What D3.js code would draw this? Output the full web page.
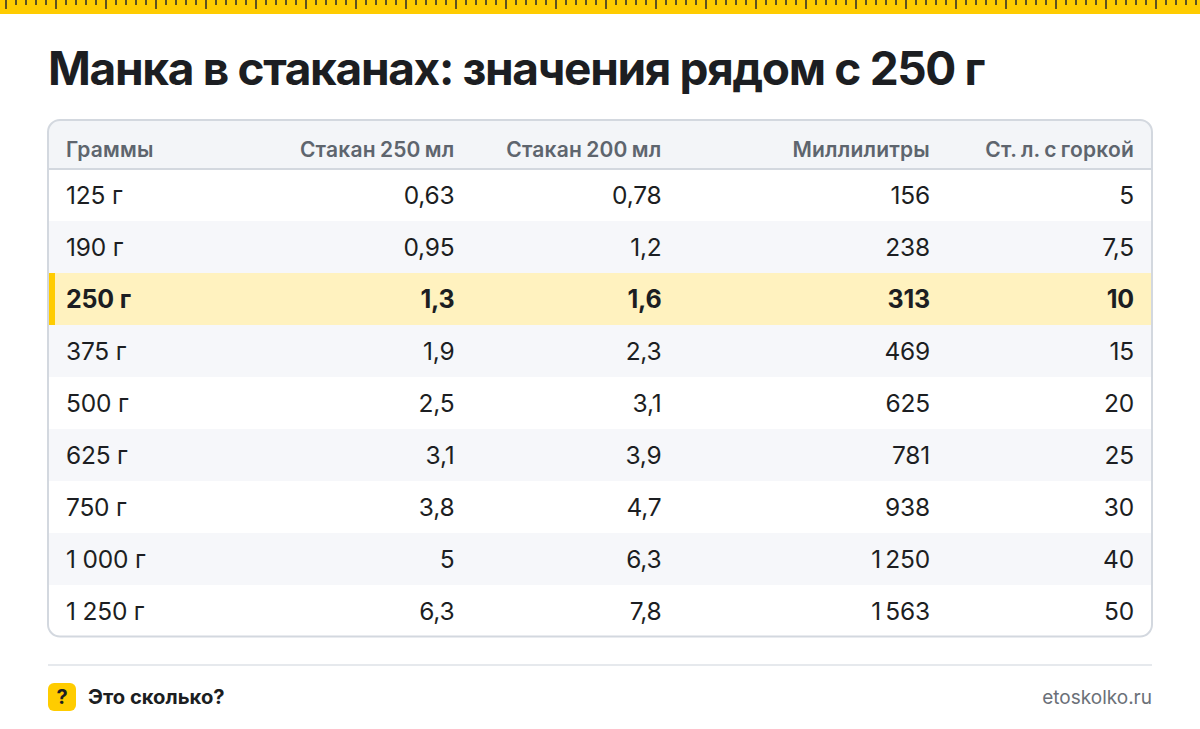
<!DOCTYPE html>
<html><head><meta charset="utf-8">
<script src="https://cdn.jsdelivr.net/npm/d3@7"></script>
<style>html,body{margin:0;padding:0;background:#fff}svg{display:block}text{font-family:Inter,sans-serif}</style>
</head><body><svg id="c" width="1200" height="729"></svg>
<script>
const title = "Манка в стаканах: значения рядом с 250 г";
const headers = ["Граммы","Стакан 250 мл","Стакан 200 мл","Миллилитры","Ст. л. с горкой"];
const grams = ["125 г","190 г","250 г","375 г","500 г","625 г","750 г","1\u00a0000 г","1\u00a0250 г"];
const cup250 = ["0,63","0,95","1,3","1,9","2,5","3,1","3,8","5","6,3"];
const cup200 = ["0,78","1,2","1,6","2,3","3,1","3,9","4,7","6,3","7,8"];
const ml = ["156","238","313","469","625","781","938","1\u2009250","1\u2009563"];
const spoons = ["5","7,5","10","15","20","25","30","40","50"];
const highlighted = "250 г";
const columns = [grams,cup250,cup200,ml,spoons];

const svg = d3.select("#c");
const W=1200, L=48, R=1152, TOP=120, HEAD=169, BOT=636.5;
const colX = d3.scaleOrdinal().domain(d3.range(5)).range([66,454.5,661.5,930,1134]);
const rowY = d3.scaleBand().domain(grams).range([HEAD,637]);
const anchor = i => i===0?"start":"end";

// ruler
svg.append("rect").attr("width",W).attr("height",14).attr("fill","#ffcc00");
const ruler = d3.scaleLinear().domain([0,120]).range([6,1206]);
svg.append("g").selectAll("rect").data(d3.range(0,120)).join("rect")
  .attr("x",d=>ruler(d)-1).attr("y",0).attr("width",2)
  .attr("height",d=>d%5===0?9:5).attr("fill","#5f5321");

svg.append("text").attr("x",48).attr("y",85).attr("font-size",46).attr("font-weight",700)
  .attr("letter-spacing","-1.33").attr("fill","#1c1e22").text(title);

// table
const defs = svg.append("defs");
defs.append("clipPath").attr("id","card").append("rect")
  .attr("x",L).attr("y",TOP).attr("width",R-L).attr("height",BOT-TOP).attr("rx",12);
const t = svg.append("g").attr("clip-path","url(#card)");
t.append("rect").attr("x",L).attr("y",TOP).attr("width",R-L).attr("height",HEAD-TOP).attr("fill","#f3f5f8");
t.selectAll(".row").data(grams).join("rect").attr("class","row")
  .attr("x",L).attr("width",R-L).attr("y",d=>rowY(d)).attr("height",rowY.bandwidth())
  .attr("fill",(d,i)=>d===highlighted?"#fff2bf":(i%2?"#f6f7fa":"#ffffff"));
t.append("rect").attr("x",L).attr("y",rowY(highlighted)).attr("width",7).attr("height",rowY.bandwidth()).attr("fill","#ffcc00");
t.append("rect").attr("x",L).attr("y",HEAD-1).attr("width",R-L).attr("height",2).attr("fill","#d3d8df");
svg.append("rect").attr("x",L).attr("y",TOP).attr("width",R-L).attr("height",BOT-TOP).attr("rx",12)
  .attr("fill","none").attr("stroke","#d3d8df").attr("stroke-width",2);

svg.append("g").selectAll("text").data(headers).join("text")
  .attr("x",(d,i)=>colX(i)).attr("y",157).attr("text-anchor",(d,i)=>anchor(i))
  .attr("font-size",21).attr("font-weight",600).attr("letter-spacing","0.2").attr("word-spacing","-1.3")
  .attr("fill","#5e656e").text(d=>d);

columns.forEach((col,c)=>{
  svg.append("g").selectAll("text").data(col).join("text")
    .attr("x",colX(c)).attr("y",(d,i)=>rowY(grams[i])+rowY.bandwidth()/2+9)
    .attr("text-anchor",anchor(c))
    .attr("font-size",(d,i)=>grams[i]===highlighted?25:24.5)
    .attr("letter-spacing","-0.2")
    .attr("font-weight",(d,i)=>grams[i]===highlighted?700:400)
    .attr("fill","#1c1e22").text(d=>d);
});

// footer
svg.append("rect").attr("x",L).attr("y",664).attr("width",R-L).attr("height",2).attr("fill","#e6e9ed");
svg.append("rect").attr("x",48).attr("y",683).attr("width",28).attr("height",28).attr("rx",6).attr("fill","#ffcc00");
svg.append("text").attr("x",62).attr("y",704).attr("text-anchor","middle").attr("font-size",20).attr("font-weight",700).attr("fill","#1c1e22").text("?");
svg.append("text").attr("x",88).attr("y",704).attr("font-size",20.2).attr("font-weight",700).attr("fill","#1c1e22").text("Это сколько?");
svg.append("text").attr("x",1152).attr("y",704).attr("text-anchor","end").attr("font-size",19).attr("fill","#6b7078").text("etoskolko.ru");
</script></body></html>
